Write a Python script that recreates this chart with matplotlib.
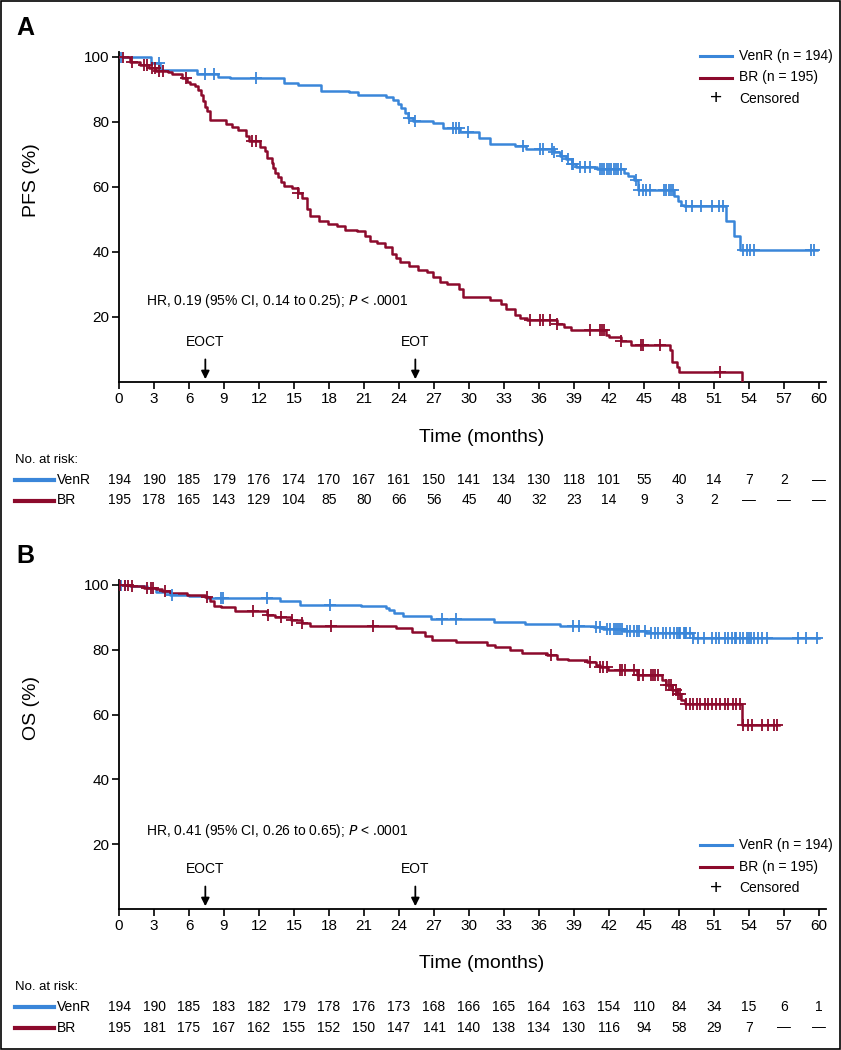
import numpy as np
import matplotlib
matplotlib.use("Agg")
import matplotlib.pyplot as plt
import matplotlib.transforms as mtransforms
from matplotlib.patches import Rectangle

W, H = 841, 1050
BLUE = '#3a86d9'
RED = '#8c0a2c'
plt.rcParams['font.family'] = ['Liberation Sans', 'DejaVu Sans']

months = np.arange(0, 61, 3)

# ---- panel A: PFS ----
pfs_venr_t = [0, 2.7, 3.5, 6.7, 8.5, 9.5, 14.1, 15.3, 17.3, 19.7, 20.5, 22.9, 23.5, 23.9, 24.2,
              24.5, 24.8, 25.2, 26.9, 27.8, 29.2, 30.9, 31.8, 33.9, 34.9, 37.3, 37.8, 38.3, 38.8,
              39.2, 41.0, 43.3, 43.6, 44.1, 44.5, 47.6, 47.9, 48.2, 48.4, 52.0, 52.7, 53.2, 59.8]
pfs_venr_s = [100, 98.0, 96.0, 94.7, 93.9, 93.4, 92.0, 91.4, 89.6, 89.1, 88.3, 87.8, 86.8, 85.5, 84.3,
              82.8, 81.2, 80.2, 79.6, 78.2, 77.0, 75.1, 73.3, 72.6, 71.6, 70.6, 69.6, 68.5, 67.0,
              66.0, 65.4, 64.4, 63.4, 62.0, 59.0, 57.3, 55.8, 54.4, 54.0, 49.4, 45.0, 40.5, 40.5]
pfs_venr_cens = [0.2, 3.4, 7.4, 8.1, 11.7, 24.9, 25.4, 28.6, 28.9, 29.1, 29.9, 34.6, 36.1, 36.3, 37.1,
                 37.3, 38.0, 38.5, 38.8, 38.9, 39.5, 39.9, 40.4, 41.2, 41.4, 41.6, 41.8, 42.0, 42.2,
                 42.4, 42.6, 42.8, 43.0, 44.3, 44.6, 44.9, 45.2, 45.5, 46.7, 46.9, 47.1, 47.3, 47.5,
                 48.6, 49.1, 49.9, 50.8, 51.4, 51.8, 53.5, 53.8, 54.1, 54.4, 59.3, 59.6]

pfs_br_t = [0, 0.9, 1.8, 2.6, 3.2, 4.2, 4.5, 5.4, 5.8, 6.1, 6.5, 6.8, 7.0, 7.2, 7.35, 7.5, 7.8, 9.2,
            9.7, 10.2, 10.9, 11.1, 12.1, 12.5, 12.7, 13.1, 13.2, 13.4, 13.6, 13.9, 14.1, 14.8, 15.3,
            15.7, 16.1, 16.4, 17.1, 17.9, 18.7, 19.4, 20.4, 21.1, 21.5, 22.1, 22.8, 23.4, 23.7, 24.1,
            24.9, 25.6, 26.4, 26.9, 27.5, 28.1, 29.1, 29.5, 31.8, 32.7, 33.2, 33.9, 34.4, 35.0, 37.5,
            38.1, 38.7, 41.7, 42.0, 43.0, 43.9, 47.2, 47.4, 47.8, 48.0, 53.4]
pfs_br_s = [100, 98.5, 97.5, 96.5, 95.8, 95.2, 94.8, 93.4, 92.4, 91.6, 90.9, 89.9, 88.3, 86.3, 84.7,
            83.3, 80.5, 79.3, 78.4, 77.4, 75.6, 74.1, 72.2, 71.0, 69.0, 67.5, 65.9, 64.4, 62.9, 61.4,
            60.2, 59.7, 58.2, 56.5, 53.1, 51.1, 49.5, 48.7, 48.0, 46.7, 46.3, 45.0, 43.4, 42.6, 41.4,
            39.4, 38.0, 36.8, 35.8, 34.3, 33.8, 32.2, 30.7, 30.2, 28.7, 26.1, 25.2, 24.0, 22.6, 20.5,
            19.8, 19.0, 17.7, 16.9, 15.9, 14.4, 13.7, 12.6, 11.3, 9.8, 6.2, 4.7, 3.1, 0]
pfs_br_cens = [0.3, 1.1, 2.1, 2.4, 2.8, 3.1, 3.4, 3.8, 5.7, 11.4, 11.7, 15.3, 35.2, 36.1, 36.3, 36.9,
               37.5, 40.4, 41.2, 41.4, 41.6, 43.0, 44.7, 44.9, 46.4, 51.5]

pfs_risk_venr = ['194', '190', '185', '179', '176', '174', '170', '167', '161', '150', '141', '134',
                 '130', '118', '101', '55', '40', '14', '7', '2', '\u2014']
pfs_risk_br = ['195', '178', '165', '143', '129', '104', '85', '80', '66', '56', '45', '40', '32',
               '23', '14', '9', '3', '2', '\u2014', '\u2014', '\u2014']

# ---- panel B: OS ----
os_venr_t = [0, 0.9, 2.4, 3.2, 4.4, 6.0, 7.5, 13.8, 15.5, 20.7, 22.9, 23.1, 23.6, 24.3, 26.7, 32.1,
             34.8, 37.8, 40.7, 41.5, 43.2, 45.2, 49.2, 60.0]
os_venr_s = [100, 99.5, 99.1, 97.9, 96.9, 96.6, 95.9, 94.9, 93.8, 93.4, 92.8, 92.2, 91.3, 90.3, 89.4,
             88.5, 88.0, 87.4, 87.0, 86.4, 85.7, 85.1, 83.6, 83.6]
os_venr_cens = [0.2, 0.5, 4.5, 8.7, 8.9, 12.7, 18.1, 27.7, 28.9, 38.9, 39.4, 40.9, 41.2, 41.8, 42.1,
                42.4, 42.6, 42.8, 42.9, 43.1, 43.5, 43.8, 44.1, 44.4, 44.6, 45.1, 45.6, 45.9, 46.2,
                46.6, 46.9, 47.2, 47.6, 47.8, 48.0, 48.1, 48.4, 48.5, 48.6, 48.9, 49.2, 49.6, 50.1,
                50.8, 51.2, 51.4, 51.9, 52.2, 52.5, 52.8, 52.9, 53.2, 53.5, 53.8, 54.0, 54.2, 54.4,
                54.8, 55.1, 55.5, 58.2, 58.9, 59.8]

os_br_t = [0, 1.0, 2.1, 3.2, 3.7, 4.4, 5.8, 7.4, 7.8, 8.1, 8.7, 9.9, 12.7, 13.4, 14.7, 15.7, 16.4,
           23.7, 25.1, 26.2, 26.8, 28.9, 31.5, 32.2, 33.5, 34.5, 36.7, 37.5, 38.5, 40.1, 40.9, 41.2,
           41.9, 44.4, 46.5, 46.9, 47.4, 47.8, 48.2, 48.5, 53.4, 56.6]
os_br_s = [100, 99.5, 99.0, 98.7, 98.2, 97.4, 96.9, 96.4, 94.9, 93.5, 93.1, 91.8, 90.8, 90.1, 89.2,
           88.2, 87.4, 86.7, 85.6, 84.1, 82.9, 82.3, 81.5, 80.8, 80.0, 79.0, 78.5, 77.1, 76.7, 76.1,
           75.3, 74.7, 73.8, 72.3, 70.8, 69.2, 67.7, 66.2, 64.6, 63.1, 56.9, 56.9]
os_br_cens = [0.1, 0.5, 0.8, 1.1, 2.4, 2.7, 2.9, 3.9, 7.5, 11.5, 12.8, 13.9, 14.8, 15.7, 18.2, 21.8,
              37.0, 40.4, 41.2, 41.5, 41.8, 42.9, 43.1, 43.4, 44.1, 44.5, 44.6, 44.9, 45.6, 45.8,
              45.9, 46.2, 46.9, 47.1, 47.3, 47.5, 47.7, 47.9, 48.1, 48.6, 48.9, 49.2, 49.5, 49.8,
              50.2, 50.5, 50.8, 51.2, 51.5, 51.9, 52.2, 52.6, 52.9, 53.2, 53.5, 53.9, 54.3, 55.1,
              55.6, 56.1, 56.4]

os_risk_venr = ['194', '190', '185', '183', '182', '179', '178', '176', '173', '168', '166', '165',
                '164', '163', '154', '110', '84', '34', '15', '6', '1']
os_risk_br = ['195', '181', '175', '167', '162', '155', '152', '150', '147', '141', '140', '138',
              '134', '130', '116', '94', '58', '29', '7', '\u2014', '\u2014']


def fx(px):
    return px / W


def fy(py):
    return 1 - py / H


fig = plt.figure(figsize=(W / 100, H / 100), dpi=100)
fig.patches.append(Rectangle((0.001, 0.001), 0.998, 0.998, transform=fig.transFigure,
                             fill=False, edgecolor='black', linewidth=1.2))


def step_at(t, s, x):
    idx = np.searchsorted(t, x, side='right') - 1
    return np.asarray(s)[idx]


def panel(top, bottom, letter, ylabel, curves, hr, leg_y, risk, arrows_y, hr_y):
    ax = fig.add_axes([fx(119), fy(bottom), fx(826 - 119), (bottom - top) / H])
    ax.set_xlim(0, 60.6)
    ax.set_ylim(0, 101.5)
    for sp in ['top', 'right']:
        ax.spines[sp].set_visible(False)
    for sp in ['left', 'bottom']:
        ax.spines[sp].set_linewidth(1.3)
    ax.set_xticks(months)
    ax.set_yticks([20, 40, 60, 80, 100])
    ax.tick_params(direction='out', length=5, width=1.2, labelsize=11, pad=2)

    for t, s, cens, col in curves:
        t = np.array(t)
        s = np.array(s)
        ax.step(t, s, where='post', color=col, lw=1.8, zorder=3)
        c = np.array(cens)
        ax.plot(c, step_at(t, s, c), ls='none', marker='+', ms=9, mew=1.3, color=col, zorder=4)

    # HR text
    ax.text(2.3, hr_y, hr, fontsize=10, va='center', ha='left')
    ax.annotate('', xy=(7.4, 0), xytext=(7.4, arrows_y[1]),
                arrowprops=dict(arrowstyle='-|>', color='black', lw=1.3, mutation_scale=12))
    ax.annotate('', xy=(25.4, 0), xytext=(25.4, arrows_y[1]),
                arrowprops=dict(arrowstyle='-|>', color='black', lw=1.3, mutation_scale=12))
    ax.text(7.4, arrows_y[0], 'EOCT', ha='center', va='center', fontsize=10)
    ax.text(25.4, arrows_y[0], 'EOT', ha='center', va='center', fontsize=10)

    fig.text(fx(25), fy(top - 17), letter, fontsize=18, fontweight='bold', ha='center',
             va='baseline')
    fig.text(fx(32), fy(top + 128), ylabel, rotation=90, fontsize=14, ha='center', va='center')
    fig.text(fx(482), fy(bottom + 55), 'Time (months)', fontsize=14, ha='center', va='center')

    # legend
    labels = ['VenR (n = 194)', 'BR (n = 195)']
    for i, (lab, col) in enumerate(zip(labels, [BLUE, RED])):
        yy = fy(leg_y + 21.5 * i)
        fig.add_artist(plt.Line2D([fx(700), fx(732)], [yy, yy], color=col, lw=2.2))
        fig.text(fx(739), yy, lab, fontsize=10, va='center', ha='left')
    yy = fy(leg_y + 43)
    fig.text(fx(716), yy, '+', fontsize=15, va='center', ha='center')
    fig.text(fx(739), yy, 'Censored', fontsize=10, va='center', ha='left')

    # number at risk
    rt = mtransforms.blended_transform_factory(ax.transData, fig.transFigure)
    fig.text(fx(15), fy(bottom + 78), 'No. at risk:', fontsize=9.5, va='center', ha='left')
    for j, (name, vals, col) in enumerate(zip(['VenR', 'BR'], risk, [BLUE, RED])):
        yy = fy(bottom + 98 + 20.5 * j)
        fig.add_artist(plt.Line2D([fx(15), fx(54)], [yy, yy], color=col, lw=3))
        fig.text(fx(57), yy, name, fontsize=10, va='center', ha='left')
        for m, v in zip(months, vals):
            ax.text(m, yy, v, transform=rt, ha='center', va='center', fontsize=10)
    return ax


panel(52, 382, 'A', 'PFS (%)',
      [(pfs_venr_t, pfs_venr_s, pfs_venr_cens, BLUE), (pfs_br_t, pfs_br_s, pfs_br_cens, RED)],
      r'HR, 0.19 (95% CI, 0.14 to 0.25); $\it{P}$ < .0001', 56,
      [pfs_risk_venr, pfs_risk_br], (12.4, 7.8), 25.0)

panel(580, 909, 'B', 'OS (%)',
      [(os_venr_t, os_venr_s, os_venr_cens, BLUE), (os_br_t, os_br_s, os_br_cens, RED)],
      r'HR, 0.41 (95% CI, 0.26 to 0.65); $\it{P}$ < .0001', 845,
      [os_risk_venr, os_risk_br], (12.4, 7.8), 24.2)

fig.savefig('out.png', dpi=100)
